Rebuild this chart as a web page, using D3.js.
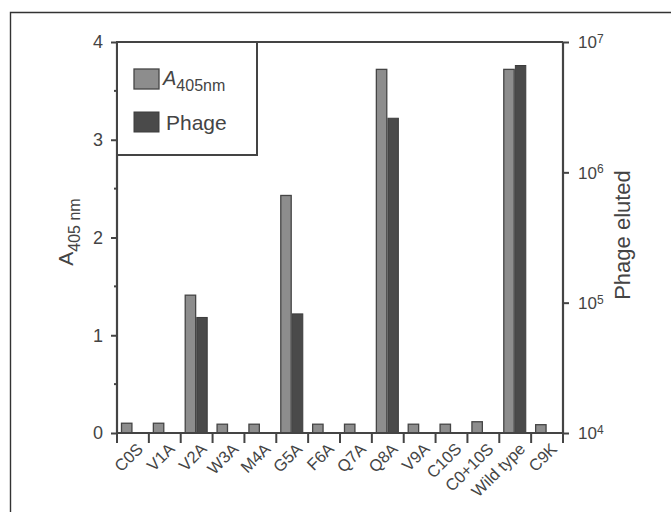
<!DOCTYPE html>
<html lang="en">
<head>
    <meta charset="UTF-8">
    <title>A405 and phage eluted</title>
    <style>
        body { margin:0; background:#fff; }
        text { font-family: "Liberation Sans", Arial, sans-serif; fill:#444; }
    </style>
</head>
<body>
    <svg width="671" height="512"></svg>
    <script src="https://d3js.org/d3.v7.min.js"></script>
    <script>
        var categories = ["C0S", "V1A", "V2A", "W3A", "M4A", "G5A", "F6A", "Q7A", "Q8A", "V9A", "C10S", "C0+10S", "Wild type", "C9K"];
        var a405 = [0.10, 0.10, 1.41, 0.09, 0.09, 2.43, 0.09, 0.09, 3.72, 0.09, 0.09, 0.115, 3.72, 0.085];
        var phage = [null, null, 7.7e4, null, null, 8.2e4, null, null, 2.6e6, null, null, null, 6.6e6, null];   // null = below 10^4
        var leftTicks = [0, 1, 2, 3, 4];
        var rightTicks = [1e4, 1e5, 1e6, 1e7];

        var svg = d3.select("svg"),
            pLeft = 117, pRight = 563, pTop = 42, pBottom = 433;   // "top" is taken by window.top

        // outer frame (cut off on right and bottom)
        svg.append("path")
            .attr("d", "M10.5,512 V12.5 H671")
            .attr("fill", "none").attr("stroke", "#333").attr("stroke-width", 1.4);

        var x = d3.scaleBand().domain(categories).range([pLeft, pRight]).padding(0);
        var sub = d3.scaleBand().domain(["a405", "phage"]).range([4.5, 26.5]).paddingInner(0.1);
        var y = d3.scaleLinear().domain([0, 4]).range([pBottom, pTop]);
        var yr = d3.scaleLog().domain([1e4, 1e7]).range([pBottom, pTop]);

        var rows = categories.map(function(c, i){ return {cat:c, a:a405[i], p:phage[i]}; });

        // bars
        var g = svg.append("g");
        g.selectAll("rect.a").data(rows).enter().append("rect")
            .attr("class", "a")
            .attr("x", function(d){ return x(d.cat) + sub("a405"); })
            .attr("y", function(d){ return y(d.a); })
            .attr("width", sub.bandwidth())
            .attr("height", function(d){ return y(0) - y(d.a); })
            .attr("fill", "#8d8d8d").attr("stroke", "#454545").attr("stroke-width", 1.3);
        g.selectAll("rect.p").data(rows.filter(function(d){ return d.p; })).enter().append("rect")
            .attr("class", "p")
            .attr("x", function(d){ return x(d.cat) + sub("phage"); })
            .attr("y", function(d){ return yr(d.p); })
            .attr("width", sub.bandwidth())
            .attr("height", function(d){ return yr(1e4) - yr(d.p); })
            .attr("fill", "#4a4a4a").attr("stroke", "#3c3c3c").attr("stroke-width", 1);

        // top frame line of plot
        svg.append("line").attr("x1", pLeft).attr("x2", pRight).attr("y1", pTop).attr("y2", pTop)
            .attr("stroke", "#444").attr("stroke-width", 2);

        // left axis
        var la = svg.append("g").attr("transform", "translate(" + pLeft + ",0)")
            .call(d3.axisLeft(y).tickValues(leftTicks).tickSize(6).tickPadding(8).tickFormat(d3.format("d")));
        la.selectAll(".tick text").style("font-size", "18px").attr("fill", "#444");
        la.selectAll(".tick line").attr("stroke", "#444").attr("stroke-width", 2);
        la.select(".domain").attr("stroke", "#444").attr("stroke-width", 2.2).attr("d", "M0," + pTop + "V" + pBottom);
        la.selectAll("line.minor").data([0.5, 1.5, 2.5, 3.5]).enter().append("line")
            .attr("class", "minor").attr("x1", -3).attr("x2", 0)
            .attr("y1", function(d){ return y(d); }).attr("y2", function(d){ return y(d); })
            .attr("stroke", "#444").attr("stroke-width", 2);

        // right axis (log)
        var ra = svg.append("g").attr("transform", "translate(" + pRight + ",0)")
            .call(d3.axisRight(yr).tickValues(rightTicks).tickSize(6).tickFormat(""));
        ra.selectAll(".tick line").attr("stroke", "#444").attr("stroke-width", 2);
        ra.select(".domain").attr("stroke", "#444").attr("stroke-width", 2.2).attr("d", "M0," + pTop + "V" + pBottom);
        var rl = ra.selectAll(".tick").append("text")
            .attr("x", 15).attr("dy", "0.35em").attr("text-anchor", "start")
            .style("font-size", "17px");
        rl.append("tspan").text("10");
        rl.append("tspan").attr("dy", "-0.45em").style("font-size", "12px")
            .text(function(d){ return Math.round(Math.log10(d)); });

        // bottom axis: ticks on category boundaries
        var bx = svg.append("g");
        bx.append("line").attr("x1", pLeft).attr("x2", pRight).attr("y1", pBottom).attr("y2", pBottom)
            .attr("stroke", "#444").attr("stroke-width", 2.2);
        var bounds = categories.map(function(c){ return x(c); }).concat([pRight]);
        bx.selectAll("line.t").data(bounds).enter().append("line")
            .attr("class", "t")
            .attr("x1", function(d){ return d; }).attr("x2", function(d){ return d; })
            .attr("y1", pBottom).attr("y2", pBottom + 10)
            .attr("stroke", "#444").attr("stroke-width", 2);
        bx.selectAll("text").data(categories).enter().append("text")
            .attr("transform", function(d){ return "translate(" + (x(d) + x.bandwidth() / 2 + 7) + "," + (pBottom + 13) + ") rotate(-45)"; })
            .attr("text-anchor", "end").attr("dy", "0.35em")
            .style("font-size", "16.5px").attr("fill", "#555")
            .text(function(d){ return d; });

        // axis titles
        var lt = svg.append("text")
            .attr("transform", "translate(73,232) rotate(-90)")
            .attr("text-anchor", "middle");
        lt.append("tspan").style("font-size", "21px").text("A");
        lt.append("tspan").attr("dy", "0.45em").style("font-size", "16px").text("405 nm");

        svg.append("text")
            .attr("transform", "translate(630,235) rotate(-90)")
            .attr("text-anchor", "middle")
            .style("font-size", "22px")
            .text("Phage eluted");

        // legend
        var lg = svg.append("g");
        lg.append("rect").attr("x", pLeft).attr("y", pTop).attr("width", 140).attr("height", 113)
            .attr("fill", "#fff").attr("stroke", "#444").attr("stroke-width", 2);
        lg.append("rect").attr("x", 134).attr("y", 69).attr("width", 25).attr("height", 20)
            .attr("fill", "#8d8d8d").attr("stroke", "#454545").attr("stroke-width", 1.3);
        lg.append("rect").attr("x", 134).attr("y", 112).attr("width", 25).attr("height", 20)
            .attr("fill", "#4a4a4a").attr("stroke", "#3c3c3c").attr("stroke-width", 1);
        var l1 = lg.append("text").attr("x", 163).attr("y", 85);
        l1.append("tspan").style("font-size", "20px").style("font-style", "italic").text("A");
        l1.append("tspan").attr("dy", "0.4em").style("font-size", "16px").text("405nm");
        lg.append("text").attr("x", 166).attr("y", 130).style("font-size", "21px").text("Phage");
    </script>
</body>
</html>
